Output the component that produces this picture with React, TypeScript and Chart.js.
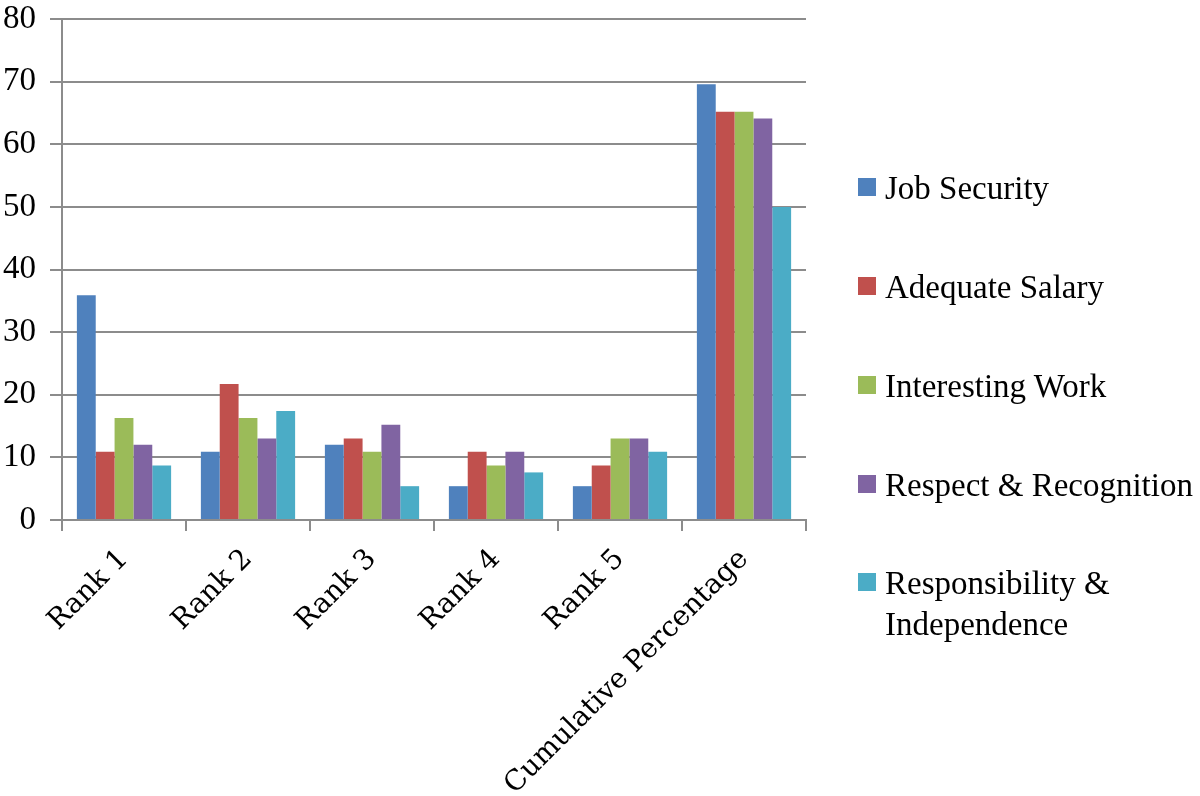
import React, { useEffect, useRef } from "react";
import { Chart, registerables } from "chart.js";

Chart.register(...registerables);

const categories = ["Rank 1", "Rank 2", "Rank 3", "Rank 4", "Rank 5", "Cumulative Percentage"];
const seriesNames = ["Job Security", "Adequate Salary", "Interesting Work", "Respect & Recognition", "Responsibility & Independence"];
const jobSecurity = [35.9, 10.9, 12.0, 5.4, 5.4, 69.6];
const adequateSalary = [10.9, 21.7, 13.0, 10.9, 8.7, 65.2];
const interestingWork = [16.3, 16.3, 10.9, 8.7, 13.0, 65.2];
const respectRecognition = [12.0, 13.0, 15.2, 10.9, 13.0, 64.1];
const responsibilityIndependence = [8.7, 17.4, 5.4, 7.6, 10.9, 50.0];
const seriesColors = ["#4F81BD", "#C0504D", "#9BBB59", "#8064A2", "#4BACC6"];
const yTicks = [0, 10, 20, 30, 40, 50, 60, 70, 80];

const allSeries = [jobSecurity, adequateSalary, interestingWork, respectRecognition, responsibilityIndependence];
const legendLines = [["Job Security"], ["Adequate Salary"], ["Interesting Work"], ["Respect & Recognition"], ["Responsibility &", "Independence"]];

export default function App() {
  const ref = useRef<HTMLCanvasElement>(null);
  useEffect(() => {
    if (!ref.current) return;
    const chart = new Chart(ref.current, {
      type: "bar",
      data: {
        labels: categories,
        datasets: allSeries.map((d, i) => ({
          label: seriesNames[i],
          data: d,
          backgroundColor: seriesColors[i],
          borderWidth: 0,
          categoryPercentage: 0.76,
          barPercentage: 1.0,
        })),
      },
      options: {
        responsive: false,
        animation: false,
        devicePixelRatio: 1,
        layout: { padding: { top: 19, right: 394, left: 0, bottom: 0 } },
        plugins: { legend: { display: false }, tooltip: { enabled: false } },
        scales: {
          x: {
            afterFit: (s: any) => { s.height = 276; },
            grid: { drawOnChartArea: false, drawTicks: true, tickLength: 11, color: "#8c8c8c", lineWidth: 2, offset: true },
            border: { color: "#8c8c8c", width: 2 },
            ticks: {
              autoSkip: false,
              maxRotation: 45,
              minRotation: 45,
              color: "#000",
              padding: 12,
              font: { family: "DejaVu Serif", size: 28 },
            },
          },
          y: {
            min: 0,
            max: 80,
            afterFit: (s: any) => { s.width = 62; s.paddingTop = 0; s.paddingBottom = 0; },
            afterBuildTicks: (s: any) => { s.ticks = yTicks.map((v) => ({ value: v })); },
            grid: { color: "#8c8c8c", lineWidth: 2, tickLength: 12 },
            border: { color: "#8c8c8c", width: 2 },
            ticks: {
              color: "#000",
              padding: 14,
              font: { family: "Liberation Serif", size: 33 },
            },
          },
        },
      },
    });
    return () => chart.destroy();
  }, []);

  const tops = [168, 267, 366, 465, 563];
  return (
    <div style={{ position: "absolute", left: 0, top: 0, width: 1200, height: 796, background: "#fff" }}>
      <canvas ref={ref} width={1200} height={796} style={{ position: "absolute", left: 0, top: 0, width: 1200, height: 796 }} />
      {legendLines.map((lines, i) => (
        <div key={i} style={{ position: "absolute", left: 858, top: tops[i], fontFamily: "Liberation Serif", fontSize: 33, lineHeight: "41px", color: "#000", whiteSpace: "nowrap" }}>
          <span style={{ position: "absolute", left: 0, top: 10, width: 18, height: 18, background: seriesColors[i] }} />
          <div style={{ marginLeft: 27 }}>
            {lines.map((t, j) => (<div key={j}>{t}</div>))}
          </div>
        </div>
      ))}
    </div>
  );
}
